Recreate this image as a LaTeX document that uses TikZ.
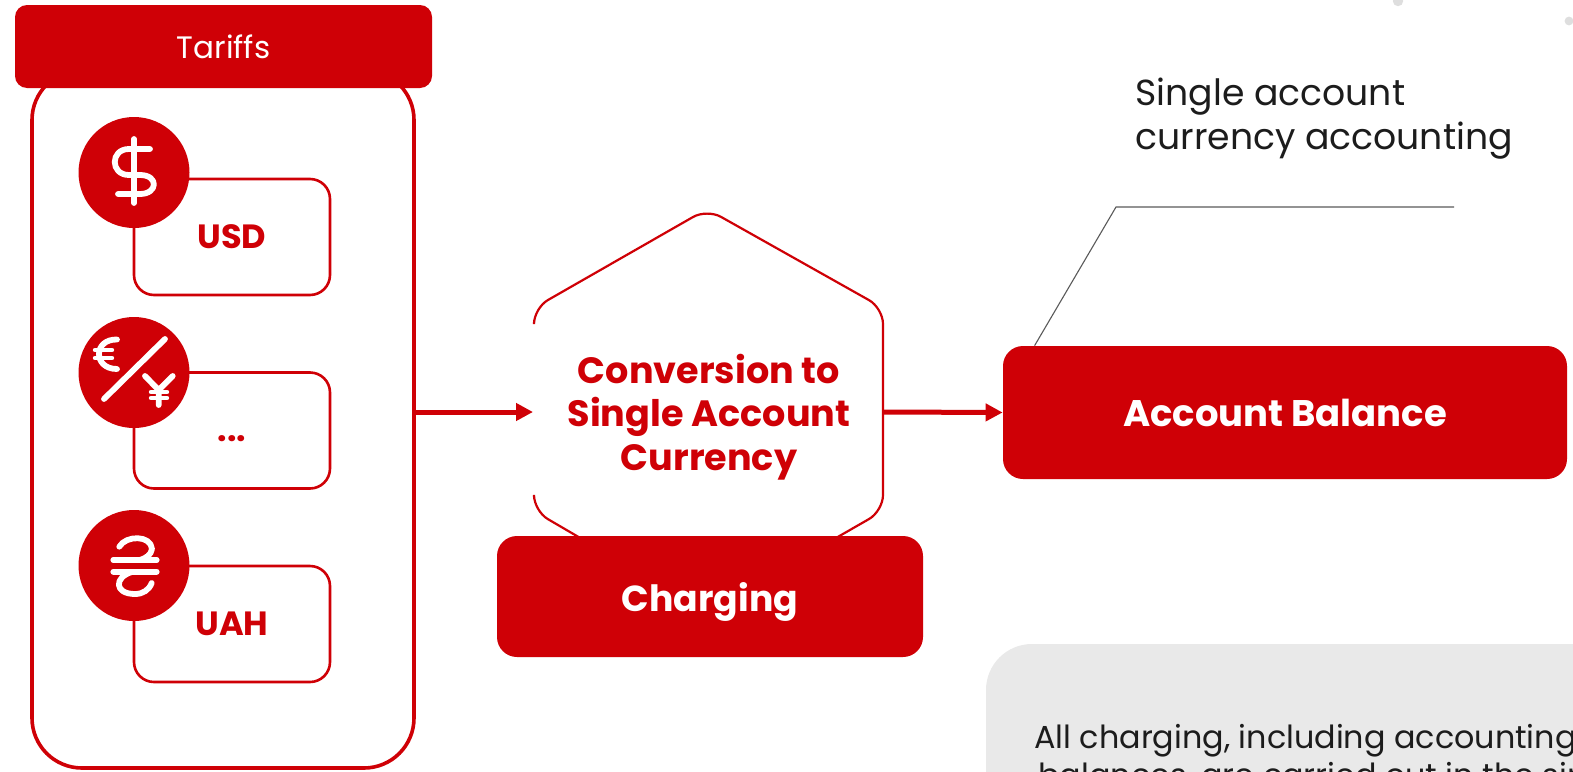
\documentclass[tikz,border=0pt]{standalone}
\usepackage{fontspec}
\setmainfont{Poppins}
\usetikzlibrary{arrows.meta}
\definecolor{brandred}{HTML}{CF0006}
\definecolor{panelgray}{HTML}{E9E9E9}
\definecolor{inkdark}{HTML}{1C1C1C}
\definecolor{leadgray}{HTML}{5A5A5A}
\definecolor{dotgray}{HTML}{DEDEDE}
\tikzset{
  redfill/.style={fill=brandred,draw=none,text=white,font=\bfseries\fontsize{18.1}{21}\selectfont,inner sep=0pt,rounded corners=10pt},
  outerbox/.style={draw=brandred,line width=1.8pt,rounded corners=25pt,fill=white,inner sep=0pt,minimum width=191pt,minimum height=349pt},
  curbox/.style={draw=brandred,line width=1.3pt,rounded corners=10pt,fill=white,inner sep=0pt,minimum width=98pt,minimum height=58pt,text=brandred,font=\bfseries\fontsize{16.8}{19}\selectfont},
  badge/.style={circle,fill=brandred,draw=none,minimum size=55.5pt,inner sep=0pt},
  iconline/.style={draw=white,line width=2.9pt,line cap=round,line join=round},
  flow/.style={draw=brandred,line width=2.5pt,-{Triangle[length=8.5pt,width=8.5pt]}},
  hexline/.style={draw=brandred,line width=1.1pt,rounded corners=8pt},
  leadline/.style={draw=leadgray,line width=0.55pt},
  plaintext/.style={text=inkdark,inner sep=0pt},
}
\begin{document}
\begin{tikzpicture}[x=0.5pt,y=-0.5pt]
\useasboundingbox (0,0) rectangle (1573,771);
\begin{scope}
\clip (0,0) rectangle (1573,771);
\fill[white] (0,0) rectangle (1573,771);
\fill[dotgray] (1398,1) circle (2.6pt);
\fill[dotgray] (1569,21) circle (2.2pt);

% tariffs column
\node[outerbox] (outer) at (223,419) {};
\node[redfill,minimum width=208.5pt,minimum height=41.5pt,rounded corners=6pt,font=\fontsize{15.5}{19}\selectfont] (tariffs) at (223.5,46.5) {Tariffs};

\node[curbox] (usdbox) at (232,237) {\raisebox{-1pt}{USD}};
\node[badge] (usdbadge) at (134,172.5) {};
\draw[iconline] (134,139) -- (134,203);
\draw[iconline] (150,149) -- (129,149) .. controls (110,149) and (110,175) .. (129,175) -- (140,175) .. controls (159,175) and (158,194) .. (140,194) -- (118,194);

\node[curbox] (eurbox) at (232,430.5) {\raisebox{-5.3pt}[0pt][0pt]{...}};
\node[badge] (eurbadge) at (134,372.5) {};
\draw[iconline] (165,339) -- (104,399);
\draw[iconline] (117,339.5) .. controls (93,339) and (93,369) .. (117,369);
\draw[iconline,line width=2.2pt] (95,350) -- (112,350) (95,358) -- (112,358);
\draw[iconline] (145,376) -- (158.7,390) -- (172.7,376) (158.7,390) -- (158.7,405);
\draw[iconline,line width=2.2pt] (151,392) -- (167,392) (151,398) -- (167,398);

\node[curbox] (uahbox) at (232,624) {\raisebox{-1pt}{UAH}};
\node[badge] (uahbadge) at (134,565.5) {};
\draw[iconline] (119.3,546.7) .. controls (126,535) and (151,535) .. (152,549) .. controls (151,555) and (146,558) .. (140,560);
\draw[iconline] (113.3,560) -- (156.7,560) (113.3,571.7) -- (156.7,571.7);
\draw[iconline] (132,572) .. controls (114,577) and (114,594) .. (135,594) .. controls (143,594) and (149,590) .. (151.7,583);

% conversion hexagon (left side is open)
\coordinate (hexwest) at (533,412);
\coordinate (hexeast) at (883,412);
\draw[hexline] (534,322) -- (534,308) -- (707,209) -- (883,308) -- (883,511) -- (707,612) -- (534,511) -- (534,497);
\node[text=brandred,font=\bfseries\fontsize{18.3}{21.7}\selectfont,align=center,inner sep=0pt] (conv) at (709,417) {Conversion to\\Single Account\\Currency};
\node[redfill,minimum width=213pt,minimum height=60.5pt,text depth=0pt] (charging) at (710,596.5) {\raisebox{-0.5pt}{Charging}};

% account balance
\node[redfill,font=\bfseries\fontsize{18.5}{21}\selectfont,minimum width=282pt,minimum height=66.5pt] (balance) at (1285,412.5) {Account Balance};

% callout
\coordinate (leadbend) at (1116,207);
\coordinate (leadend) at (1454,207);
\coordinate (leadstart) at (balance.north west);
\draw[leadline] ([xshift=16pt]leadstart) -- (leadbend) -- (leadend);
\node[plaintext,anchor=west,align=left,font=\fontsize{18.1}{22}\selectfont] (single) at (1135,119) {Single account\\currency accounting};

% connectors
\draw[flow] (outer.east |- hexwest) -- (hexwest);
\draw[flow] (hexeast) -- (balance.west);

% note panel
\fill[panelgray,rounded corners=23pt] (986,644) rectangle (1700,900);
\node[plaintext,anchor=base west,font=\fontsize{15.9}{18}\selectfont] (noteone) at (1034,748) {All charging, including accounting};
\node[plaintext,anchor=base west,font=\fontsize{15.9}{18}\selectfont] (notetwo) at (1038,786) {balances, are carried out in the sin};
\end{scope}
\end{tikzpicture}
\end{document}
